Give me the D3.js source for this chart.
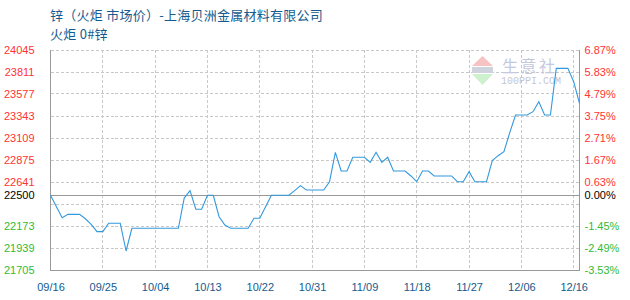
<!DOCTYPE html>
<html>
<head>
<meta charset="utf-8">
<script src="https://cdn.jsdelivr.net/npm/d3@7/dist/d3.min.js"></script>
<style>
  html, body { margin: 0; padding: 0; background: #fff; }
  svg { display: block; }
</style>
</head>
<body>
<svg id="chart" width="630" height="300"></svg>
<script>
// ---- data ----
const titleText = "锌（火炬 市场价）-上海贝洲金属材料有限公司";
const subtitleText = "火炬 0#锌";
const basePrice = 22500;
const xTickLabels = ["09/16","09/25","10/04","10/13","10/22","10/31","11/09","11/18","11/27","12/06","12/16"];
const xTickIndex = [0, 9, 18, 27, 36, 45, 54, 63, 72, 81, 90];
const yTickValues = [24045, 23811, 23577, 23343, 23109, 22875, 22641, 22500, 22173, 21939, 21705];
const yGridValues = [24045, 23811, 23577, 23343, 23109, 22875, 22641, 22407, 22173, 21939, 21705];
const prices = [
  22500, 22380, 22262, 22297, 22297, 22297, 22250, 22190, 22113, 22113,
  22202, 22202, 22202, 21907, 22149, 22149, 22149, 22149, 22149, 22149,
  22149, 22149, 22149, 22470, 22549, 22351, 22351, 22500, 22500, 22272,
  22184, 22149, 22149, 22149, 22149, 22255, 22255, 22378, 22500, 22500,
  22500, 22500, 22549, 22602, 22556, 22556, 22556, 22556, 22644, 22957,
  22758, 22758, 22904, 22904, 22904, 22850, 22957, 22850, 22904, 22758,
  22758, 22758, 22705, 22644, 22758, 22758, 22705, 22705, 22705, 22705,
  22644, 22644, 22751, 22644, 22644, 22644, 22868, 22921, 22963, 23166,
  23354, 23354, 23354, 23389, 23495, 23354, 23354, 23850, 23850, 23850,
  23708, 23478
];

// ---- layout ----
const L = 50.5, R = 579.5, T = 50, B = 270;
const svg = d3.select("#chart");
const x = d3.scaleLinear().domain([0, prices.length - 1]).range([L, R]);
const y = d3.scaleLinear().domain([21705, 24045]).range([B, T]);
const snap = v => Math.round(v - 0.5) + 0.5;

const labelFont = "'Liberation Sans', Arial, sans-serif";
const blue = "#145a8e";

// title
svg.append("text").attr("x", 50).attr("y", 19.5)
  .attr("font-family", "'Noto Sans CJK SC', sans-serif").attr("font-size", 13)
  .attr("letter-spacing", 0.25)
  .attr("fill", blue).text(titleText);
svg.append("text").attr("x", 50).attr("y", 38.5)
  .attr("font-family", "'Noto Sans CJK SC', sans-serif").attr("font-size", 13)
  .attr("letter-spacing", 0.25)
  .attr("fill", blue).text(subtitleText);

// horizontal dashed grid
const grid = svg.append("g");
grid.selectAll("line.h").data(yGridValues).join("line")
  .attr("x1", L).attr("x2", R)
  .attr("y1", d => snap(y(d))).attr("y2", d => snap(y(d)))
  .attr("stroke", "#c8c8c8").attr("stroke-dasharray", "3,2")
  .attr("shape-rendering", "crispEdges");
// vertical dashed grid
grid.selectAll("line.v").data(xTickIndex.slice(1)).join("line")
  .attr("x1", d => snap(x(d))).attr("x2", d => snap(x(d)))
  .attr("y1", T).attr("y2", B)
  .attr("stroke", "#c8c8c8").attr("stroke-dasharray", "3,2")
  .attr("shape-rendering", "crispEdges");

// watermark
const wm = svg.append("g");
wm.append("path").attr("d", "M472,66 L493,66 L482.5,56 Z").attr("fill", "#f6c2c2");
wm.append("rect").attr("x", 472).attr("y", 67).attr("width", 21).attr("height", 6).attr("fill", "#cfd3dd");
wm.append("path").attr("d", "M472,74 L493,74 L482.5,85 Z").attr("fill", "#cdf0cd");
wm.append("text").attr("x", 502).attr("y", 72).attr("font-family", "'Noto Sans CJK SC', sans-serif")
  .attr("font-size", 16).attr("letter-spacing", 2.5).attr("fill", "#c4c9de").text("生意社");
wm.append("text").attr("x", 501).attr("y", 83.5).attr("font-family", "'Liberation Mono', monospace")
  .attr("font-size", 10).attr("fill", "#c6c6d0").text("100PPI.COM");

// frame
svg.append("path")
  .attr("d", `M${L},${T} L${L},${snap(B)} L${R},${snap(B)} L${R},${T}`)
  .attr("fill", "none").attr("stroke", "#999").attr("shape-rendering", "crispEdges");
// base line
svg.append("line").attr("x1", L).attr("x2", R)
  .attr("y1", snap(y(basePrice))).attr("y2", snap(y(basePrice)))
  .attr("stroke", "#999").attr("shape-rendering", "crispEdges");

// price line
const line = d3.line().x((d, i) => x(i)).y(d => y(d));
svg.append("path").datum(prices).attr("d", line)
  .attr("fill", "none").attr("stroke", "#3399dd").attr("stroke-width", 1.1);

const colorFor = v => v > basePrice ? "#ff3333" : (v < basePrice ? "#33bb33" : "#000");

// left axis
const leftAxis = svg.append("g").attr("transform", `translate(${L},0)`)
  .call(d3.axisLeft(y).tickValues(yTickValues).tickSize(0).tickPadding(16).tickFormat(d3.format("d")));
leftAxis.select(".domain").remove();
leftAxis.selectAll("text").attr("font-family", labelFont).attr("font-size", 11)
  .attr("fill", d => colorFor(d)).attr("dy", "0.3em");

// right axis
const pct = d => ((d - basePrice) / basePrice * 100).toFixed(2) + "%";
const rightAxis = svg.append("g").attr("transform", `translate(${R},0)`)
  .call(d3.axisRight(y).tickValues(yTickValues).tickSize(0).tickPadding(5).tickFormat(pct));
rightAxis.select(".domain").remove();
rightAxis.selectAll("text").attr("font-family", labelFont).attr("font-size", 11)
  .attr("fill", d => colorFor(d)).attr("dy", "0.3em");

// bottom axis
const bottomAxis = svg.append("g").attr("transform", `translate(0,${B})`)
  .call(d3.axisBottom(x).tickValues(xTickIndex).tickSize(0).tickPadding(13)
    .tickFormat((d, i) => xTickLabels[i]));
bottomAxis.select(".domain").remove();
bottomAxis.selectAll("text").attr("font-family", labelFont).attr("font-size", 11).attr("fill", blue);
</script>
</body>
</html>
